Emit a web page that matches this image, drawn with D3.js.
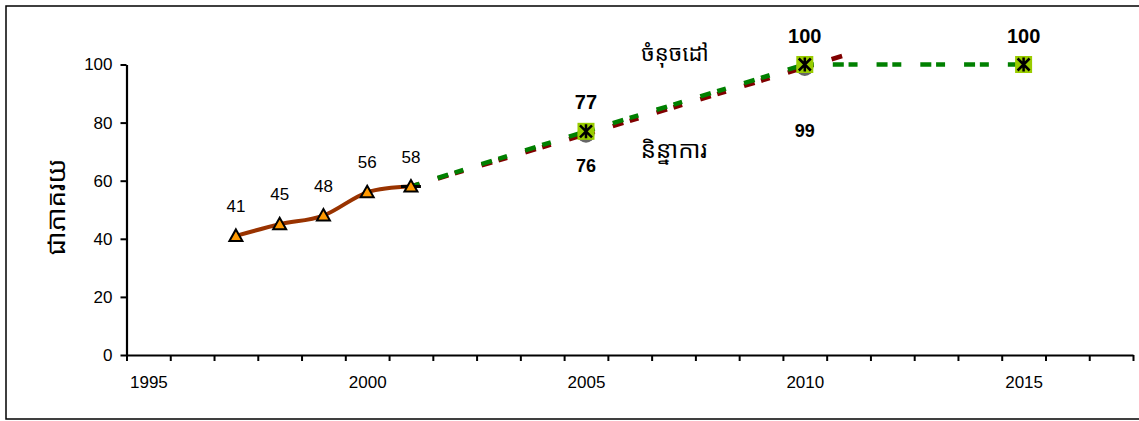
<!DOCTYPE html>
<html>
<head>
<meta charset="utf-8">
<script src="https://cdn.jsdelivr.net/npm/d3@7"></script>
<style>
  html, body { margin: 0; padding: 0; background: #fff; }
  svg { display: block; }
  .lat { font-family: "Liberation Sans", Arial, sans-serif; }
  .khm { font-family: "Khmer OS", "Noto Sans Khmer", "Khmer OS System", "Noto Sans", sans-serif; }
</style>
</head>
<body>
<svg id="chart" width="1139" height="421"></svg>
<script>
// Category years on the x axis (labelled every five years)
const years = d3.range(1995, 2018);
const yearLabels = [1995, 2000, 2005, 2010, 2015];
const yTicks = [0, 20, 40, 60, 80, 100];

// Observed rate (solid line, triangles)
const actualYears = [1997, 1998, 1999, 2000, 2001];
const actualValues = [41, 45, 48, 56, 58];

// Trend projection (dark red dashes)
const trendYears = [2001, 2002, 2003, 2004, 2005, 2006, 2007, 2008, 2009, 2010, 2011];
const trendValues = [58, 62.5, 67, 71.5, 76, 80.6, 85.2, 89.8, 94.4, 99, 103.6];

// Target path (green dashes)
const targetYears = [2001, 2002, 2003, 2004, 2005, 2006, 2007, 2008, 2009, 2010, 2011, 2012, 2013, 2014, 2015];
const targetValues = [58, 62.8, 67.5, 72.3, 77, 81.6, 86.2, 90.8, 95.4, 100, 100, 100, 100, 100, 100];

// Milestone markers
const targetMarkYears = [2005, 2010, 2015];
const trendMarkYears = [2005, 2010];

const svg = d3.select("#chart");

// outer frame
svg.append("rect")
  .attr("x", 6).attr("y", 6).attr("width", 1150).attr("height", 413)
  .attr("fill", "none").attr("stroke", "#000").attr("stroke-width", 1.5);

const x0 = 126.5, x1 = 1133;
const xEdge = d3.scaleLinear().domain([1994.5, 2017.5]).range([x0, x1]);
const y = d3.scaleLinear().domain([0, 100]).range([355, 64.5]);

const pts = (ys, vs) => ys.map((yr, i) => ({ yr, v: vs[i] }));
const actual = pts(actualYears, actualValues);
const trend = pts(trendYears, trendValues);
const target = pts(targetYears, targetValues);

// axes
const gx = svg.append("g").attr("transform", `translate(0,${y(0)})`)
  .call(d3.axisBottom(xEdge).tickValues(d3.range(1994.5, 2018, 1)).tickFormat("").tickSize(6).tickSizeOuter(0));
const gxl = svg.append("g").attr("transform", `translate(0,${y(0)})`)
  .call(d3.axisBottom(xEdge).tickValues(yearLabels).tickFormat(d3.format("d")).tickSize(0).tickPadding(21));
gxl.select(".domain").remove();

const gy = svg.append("g").attr("transform", `translate(${x0},0)`)
  .call(d3.axisLeft(y).tickValues(yTicks).tickSize(6).tickPadding(8).tickSizeOuter(0));

[gx, gy].forEach(g => {
  g.selectAll(".domain").attr("stroke", "#000").attr("stroke-width", 2.2);
  g.selectAll(".tick line").attr("stroke", "#000").attr("stroke-width", 2);
});
[gxl, gy].forEach(g => {
  g.selectAll("text").attr("class", "lat").attr("font-size", 17).attr("fill", "#000");
});

// y axis title
svg.append("text").attr("class", "khm")
  .attr("transform", "translate(65,207) rotate(-90)")
  .attr("text-anchor", "middle").attr("font-size", 26).text("ជាភាគរយ");

// dashed series: one path per yearly segment so the dash pattern restarts at each point
function dashed(data, color) {
  svg.append("g").selectAll("line").data(d3.pairs(data)).join("line")
    .attr("x1", d => xEdge(d[0].yr)).attr("y1", d => y(d[0].v))
    .attr("x2", d => xEdge(d[1].yr)).attr("y2", d => y(d[1].v))
    .attr("stroke", color).attr("stroke-width", 4.5)
    .attr("stroke-dasharray", "11,19").attr("stroke-dashoffset", 2);
}
dashed(trend, "#800000");
dashed(target, "#008000");

// observed line, smoothed
svg.append("path").datum(actual)
  .attr("d", d3.line().x(d => xEdge(d.yr)).y(d => y(d.v)).curve(d3.curveCatmullRom.alpha(0)))
  .attr("fill", "none").attr("stroke", "#993300").attr("stroke-width", 4);

// trend markers (grey circles)
svg.append("g").selectAll("circle").data(trend.filter(d => trendMarkYears.includes(d.yr))).join("circle")
  .attr("cx", d => xEdge(d.yr)).attr("cy", d => y(d.v)).attr("r", 8.5).attr("fill", "#666");

// dash marker at the start of the projections
svg.append("line")
  .attr("x1", xEdge(2001) - 10).attr("x2", xEdge(2001) + 10)
  .attr("y1", y(58)).attr("y2", y(58)).attr("stroke", "#000").attr("stroke-width", 3);

// target markers: square with asterisk
const tm = svg.append("g").selectAll("g").data(target.filter(d => targetMarkYears.includes(d.yr))).join("g")
  .attr("transform", d => `translate(${xEdge(d.yr)},${y(d.v)})`);
tm.append("rect").attr("x", -8.5).attr("y", -8.5).attr("width", 17).attr("height", 17).attr("fill", "#99CC00");
tm.append("path").attr("d", "M0,-7V7M-6,-6L6,6M-6,6L6,-6").attr("stroke", "#000").attr("stroke-width", 2.5).attr("fill", "none");

// triangles on observed points
svg.append("g").selectAll("path").data(actual).join("path")
  .attr("transform", d => `translate(${xEdge(d.yr)},${y(d.v)})`)
  .attr("d", "M0,-6.5L6.5,5L-6.5,5Z")
  .attr("fill", "#FF9900").attr("stroke", "#000").attr("stroke-width", 2).attr("stroke-linejoin", "miter");

// value labels
svg.append("g").selectAll("text").data(actual).join("text").attr("class", "lat")
  .attr("x", d => xEdge(d.yr)).attr("y", d => y(d.v) - 24)
  .attr("text-anchor", "middle").attr("font-size", 17).text(d => d.v);

const tLab = target.filter(d => targetMarkYears.includes(d.yr));
svg.append("g").selectAll("text").data(tLab).join("text").attr("class", "lat")
  .attr("x", d => xEdge(d.yr)).attr("y", d => y(d.v) - 22)
  .attr("text-anchor", "middle").attr("font-size", 20).attr("font-weight", "bold").text(d => d.v);

const rLab = trend.filter(d => trendMarkYears.includes(d.yr));
const rOff = { 2005: 38, 2010: 70 };
svg.append("g").selectAll("text").data(rLab).join("text").attr("class", "lat")
  .attr("x", d => xEdge(d.yr)).attr("y", d => y(d.v) + rOff[d.yr])
  .attr("text-anchor", "middle").attr("font-size", 18).attr("font-weight", "bold").text(d => d.v);

// series names
svg.append("text").attr("class", "khm").attr("x", 675).attr("y", 61)
  .attr("text-anchor", "middle").attr("font-size", 22).text("ចំនុចដៅ");
svg.append("text").attr("class", "khm").attr("x", 674).attr("y", 158)
  .attr("text-anchor", "middle").attr("font-size", 24).text("និន្នាការ");
</script>
</body>
</html>
